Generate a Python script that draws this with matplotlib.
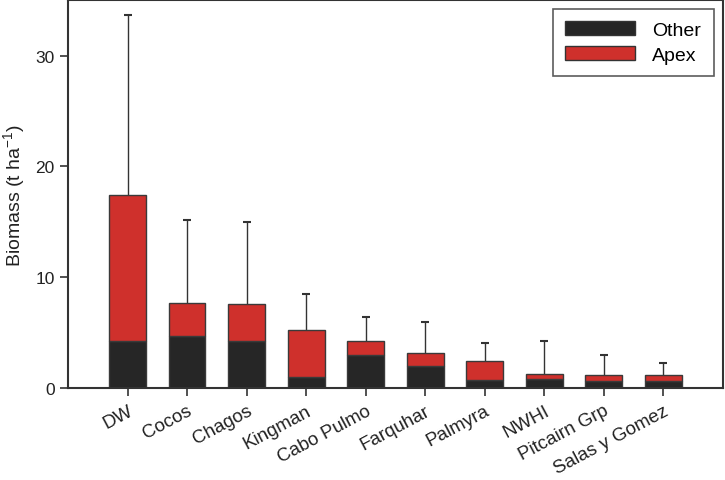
import matplotlib
matplotlib.use("Agg")
import matplotlib.pyplot as plt
import numpy as np
from matplotlib.patches import Patch

plt.rcParams['font.family'] = ['Liberation Sans', 'DejaVu Sans']
plt.rcParams['mathtext.fontset'] = 'custom'
plt.rcParams['mathtext.rm'] = 'Liberation Sans'
plt.rcParams['mathtext.it'] = 'Liberation Sans:italic'

sites = ["DW", "Cocos", "Chagos", "Kingman", "Cabo Pulmo", "Farquhar",
         "Palmyra", "NWHI", "Pitcairn Grp", "Salas y Gomez"]
other = [4.23, 4.66, 4.26, 1.02, 3.0, 1.98, 0.75, 0.81, 0.66, 0.66]
total = [17.45, 7.66, 7.54, 5.25, 4.23, 3.15, 2.4, 1.29, 1.17, 1.17]
err_top = [33.7, 15.2, 15.0, 8.5, 6.4, 5.92, 4.05, 4.26, 2.97, 2.3]

apex = [t - o for t, o in zip(total, other)]

fig = plt.figure(figsize=(7.25, 4.81), dpi=100)
ax = fig.add_axes([0.0938, 0.1913, 0.903, 0.806])

x = np.arange(len(sites))
w = 0.62
dark = "#262626"
red = "#CF302C"
ax.bar(x, other, w, color=dark, edgecolor="#3a3a3a", linewidth=1.0, zorder=2)
ax.bar(x, apex, w, bottom=other, color=red, edgecolor="#3a3a3a", linewidth=1.0, zorder=2)
ax.vlines(x, total, err_top, color="#333333", linewidth=1.0, zorder=1)
ax.plot(x, err_top, linestyle="none", marker="_", markersize=6, markeredgewidth=1.5,
        color="#333333", zorder=1)

ax.set_xlim(-1, 10)
ax.set_ylim(0, 35)
ax.set_yticks([0, 10, 20, 30])
ax.set_xticks(x)
ax.set_xticklabels(sites, rotation=28, ha="right", rotation_mode="anchor", fontsize=13.5)
ax.tick_params(axis="both", direction="out", length=6, width=1.2, color="#333333",
               labelcolor="#222222")
ax.tick_params(axis="x", pad=4)
ax.tick_params(axis="y", labelsize=12.5)
for s in ax.spines.values():
    s.set_linewidth(1.5)
    s.set_color("#333333")
ax.set_ylabel("Biomass (t ha$^{-1}$)", fontsize=14, color="#222222", labelpad=6)

handles = [Patch(facecolor=dark, edgecolor="#333333", label="Other"),
           Patch(facecolor=red, edgecolor="#333333", label="Apex")]
leg = ax.legend(handles=handles, loc="upper right", bbox_to_anchor=(0.9865, 0.978),
                fontsize=14, frameon=True, fancybox=False, edgecolor="#333333",
                handlelength=3.6, handleheight=0.72, handletextpad=0.88,
                borderpad=0.65, labelspacing=0.35, borderaxespad=0)
leg.get_frame().set_linewidth(1.2)

fig.savefig("out.png", dpi=100)
